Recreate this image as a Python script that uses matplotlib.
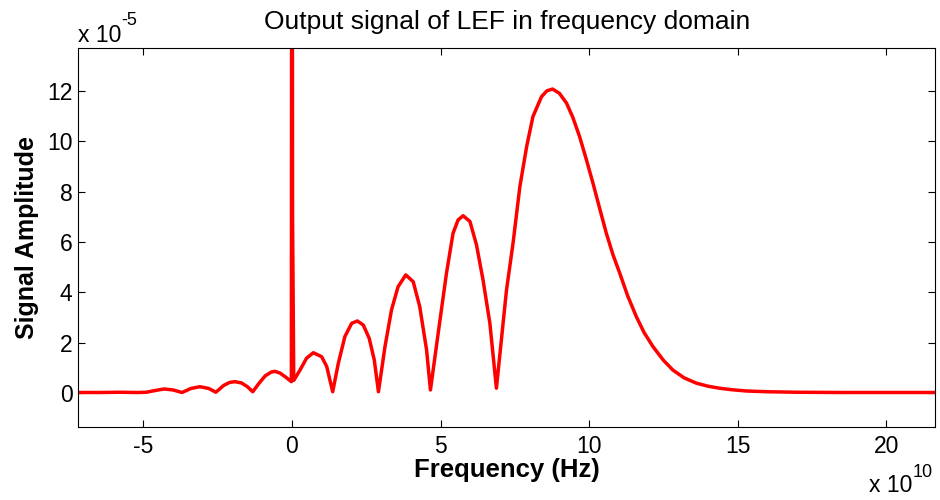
import matplotlib
matplotlib.use("Agg")
import matplotlib.pyplot as plt

plt.rcParams['font.family'] = ['Liberation Sans', 'DejaVu Sans']
plt.rcParams['axes.unicode_minus'] = False

# frequency in units of 1e10 Hz, amplitude in units of 1e-5
freq = [-7.2, -6.5, -5.8, -5.2, -4.9, -4.6, -4.3, -4.0, -3.7, -3.4, -3.1, -2.8, -2.56,
        -2.3, -2.1, -1.92, -1.7, -1.5, -1.32,
        -1.1, -0.9, -0.7, -0.57, -0.4, -0.2, -0.02,
        0.0, 0.02, 0.06, 0.27, 0.49, 0.72, 1.0, 1.17, 1.37,
        1.56, 1.78, 2.01, 2.2, 2.4, 2.6, 2.77, 2.91,
        3.13, 3.35, 3.57, 3.83, 4.08, 4.3, 4.53, 4.66,
        4.92, 5.2, 5.42, 5.59, 5.76, 5.99, 6.21, 6.43, 6.66, 6.88,
        7.22, 7.44, 7.67, 7.9, 8.11, 8.4, 8.58, 8.77, 9.0, 9.24, 9.45, 9.68,
        9.9, 10.13, 10.35, 10.58, 10.8, 11.03, 11.3, 11.59, 11.85, 12.15,
        12.5, 12.82, 13.2, 13.61, 14.0, 14.39, 14.8, 15.29, 16.0, 17.0, 18.5, 20.0, 21.7]
amp = [0.02, 0.02, 0.03, 0.02, 0.03, 0.1, 0.16, 0.12, 0.02, 0.18, 0.25, 0.18, 0.03,
       0.3, 0.42, 0.45, 0.4, 0.25, 0.05,
       0.4, 0.68, 0.83, 0.86, 0.79, 0.62, 0.45,
       40.0, 7.0, 0.5, 0.91, 1.38, 1.6, 1.44, 1.05, 0.05,
       1.18, 2.24, 2.77, 2.86, 2.7, 2.17, 1.31, 0.05,
       1.84, 3.3, 4.22, 4.69, 4.42, 3.43, 1.71, 0.12,
       2.37, 4.76, 6.34, 6.87, 7.04, 6.81, 5.88, 4.49, 2.77, 0.19,
       4.09, 5.95, 8.2, 9.8, 10.98, 11.77, 12.0, 12.07, 11.9, 11.51, 10.95, 10.18,
       9.3, 8.33, 7.35, 6.34, 5.5, 4.76, 3.85, 3.03, 2.4, 1.84,
       1.3, 0.91, 0.6, 0.39, 0.27, 0.19, 0.13, 0.08, 0.05, 0.03, 0.02, 0.02, 0.02]

xticks = [-5, 0, 5, 10, 15, 20]
yticks = [0, 2, 4, 6, 8, 10, 12]

fig = plt.figure(figsize=(9.4, 5.0), dpi=100)
ax = fig.add_axes([0.083, 0.146, 0.912, 0.758])
ax.plot(freq, amp, color='red', lw=2.5)

ax.set_xlim(-7.2, 21.65)
ax.set_ylim(-1.35, 13.7)
ax.set_xticks(xticks)
ax.set_yticks(yticks)
ax.tick_params(direction='in', top=True, right=True, length=5, width=0.8,
               labelsize=16.5, pad=4)
ax.tick_params(axis='x', pad=6)
for s in ax.spines.values():
    s.set_linewidth(0.8)

ax.set_title('Output signal of LEF in frequency domain', fontsize=19, pad=14)
ax.set_xlabel('Frequency (Hz)', fontsize=18.5, fontweight='bold', labelpad=0)
ax.set_ylabel('Signal Amplitude', fontsize=18, fontweight='bold', labelpad=6)

# axis multipliers, MATLAB style
fig.text(78 / 940, 1 - 42 / 500, 'x 10', fontsize=16.5, va='baseline')
fig.text(121 / 940, 1 - 25 / 500, '-5', fontsize=13, va='baseline')
fig.text(869 / 940, 1 - 492 / 500, 'x 10', fontsize=16.5, va='baseline')
fig.text(913 / 940, 1 - 477 / 500, '10', fontsize=13, va='baseline')

fig.savefig('out.png', dpi=100)
